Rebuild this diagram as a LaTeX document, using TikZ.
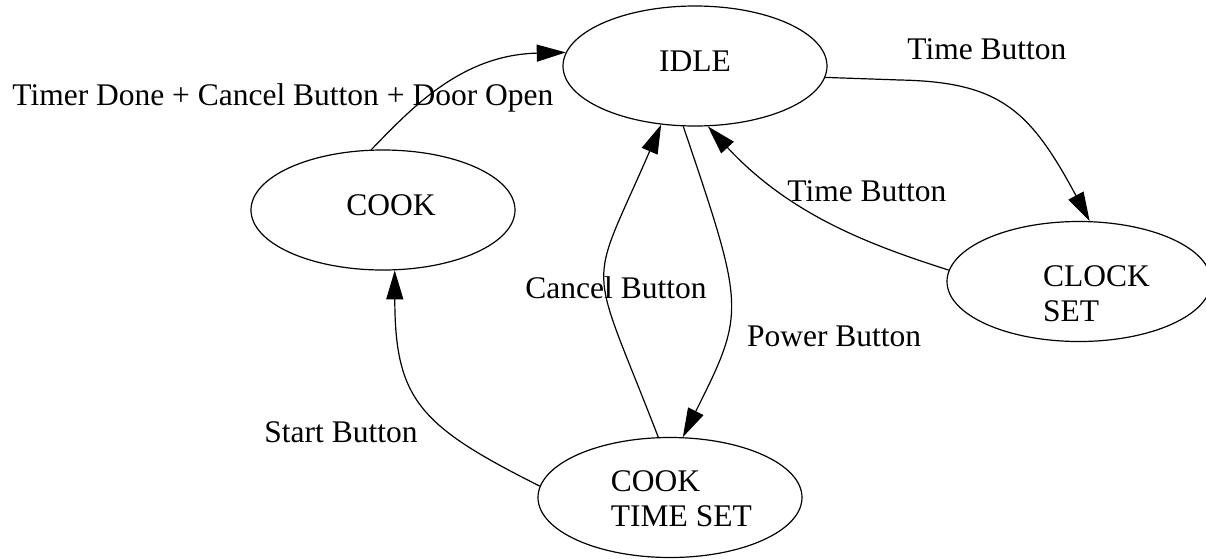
\documentclass[tikz,border=0pt]{standalone}
\usepackage{fontspec}
\setmainfont{Liberation Serif}
\usetikzlibrary{shapes.geometric,arrows.meta}

\begin{document}
\begin{tikzpicture}[x=0.5pt,y=-0.5pt,
    state/.style={draw,ellipse,line width=0.6pt,minimum width=132pt,minimum height=60pt,inner sep=0pt},
    statetext/.style={align=left,inner sep=0pt,font=\fontsize{15.75}{17.5}\selectfont},
    trans/.style={-{Triangle[length=14.5pt,width=8.5pt]},line width=0.6pt},
    cond/.style={anchor=base west,inner sep=0pt,font=\fontsize{15.75}{17.5}\selectfont}]
  \useasboundingbox (0,0) rectangle (1206,558);
  %--- states ---
  \node[state,label={[statetext,yshift=2.15pt]center:IDLE}] (idle) at (695,66) {};
  \node[state,label={[statetext,xshift=4pt,yshift=2.15pt]center:COOK}] (cook) at (383,210) {};
  \node[state,label={[statetext,xshift=8.7pt,yshift=-6.35pt]center:{CLOCK\\SET}}] (clock) at (1079,281.5) {};
  \node[state,label={[statetext,xshift=5.7pt,yshift=-0.5pt]center:{COOK\\TIME SET}}] (cooktime) at (670,497.5) {};
  %--- transitions ---
  \draw[trans] (cook.101) .. controls (410,110) and (460,55) .. (idle.174);
  \draw[trans] (idle.-5) -- (900,80) .. controls (1000,82) and (1030,110) .. (clock.80);
  \draw[trans] (clock.175) .. controls (870,245) and (790,215) .. (idle.-78);
  \draw[trans] (idle.-101) .. controls (745,309) and (746,311) .. (cooktime.78);
  \draw[trans] (cooktime.101) .. controls (587,253) and (587,296) .. (idle.-120);
  \draw[trans] (cooktime.175) .. controls (420,426) and (395,400) .. (cook.-79);
  %--- conditions ---
  \node[cond] (done) at (12,105) {Timer Done + Cancel Button + Door Open};
  \node[cond] (timeon) at (907,59) {Time Button};
  \node[cond] (timeoff) at (787,201.7) {Time Button};
  \node[cond] (cancel) at (525,298.3) {Cancel Button};
  \node[cond] (power) at (746.7,346.7) {Power Button};
  \node[cond] (start) at (264,442.7) {Start Button};
\end{tikzpicture}
\end{document}
